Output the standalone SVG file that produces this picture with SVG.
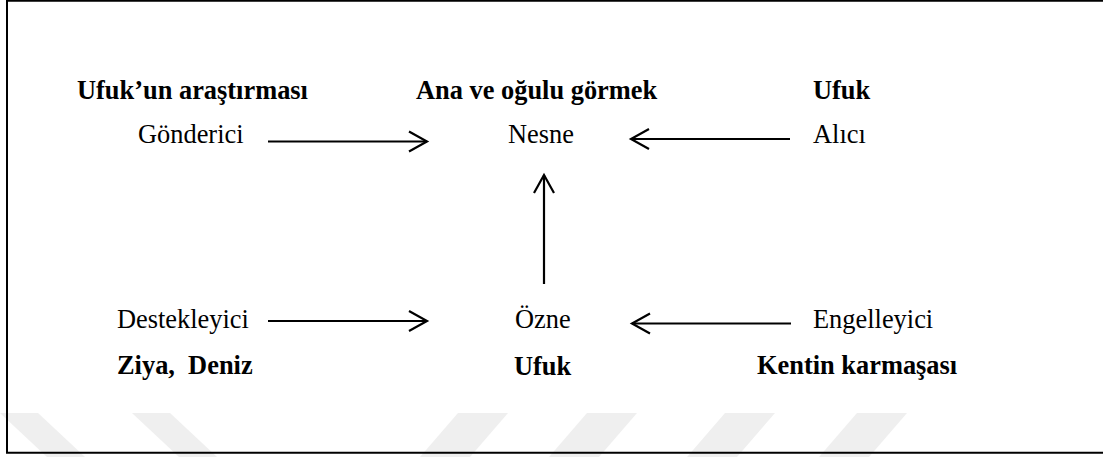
<svg xmlns="http://www.w3.org/2000/svg" width="1103" height="457" viewBox="0 0 1103 457">
<style>
  text { font-family: "Liberation Serif", "Times New Roman", serif; font-size: 26.4px; fill: #000; white-space: pre; }
  .b { font-weight: bold; }
  .wm { fill: #efefef; }
  .conn { stroke: #000; stroke-width: 2.2; fill: none; }
</style>
<defs>
  <marker id="ah" markerUnits="userSpaceOnUse" markerWidth="26" markerHeight="26" viewBox="0 0 26 26" refX="21" refY="13" orient="auto">
    <path d="M3,3 L21,13 L3,23" fill="none" stroke="#000" stroke-width="2.2"/>
  </marker>
</defs>
<rect width="1103" height="457" fill="#fff"/>
<g id="watermark">
  <polygon class="wm" points="0,413 38,413 85,457 47,457"/>
  <polygon class="wm" points="132,413 170,413 217,457 179,457"/>
  <polygon class="wm" points="458,413 508,413 470,457 420,457"/>
  <polygon class="wm" points="587,413 637,413 599,457 549,457"/>
  <polygon class="wm" points="725,413 775,413 737,457 687,457"/>
  <polygon class="wm" points="857,413 907,413 869,457 819,457"/>
</g>
<path id="frame" d="M1103,0.8 H7 V452.8 H1103" fill="none" stroke="#000" stroke-width="2"/>
<g id="connectors">
  <path class="conn" d="M268,141.5 H427" marker-end="url(#ah)"/>
  <path class="conn" d="M790,139 H631" marker-end="url(#ah)"/>
  <path class="conn" d="M544,284 V175" marker-end="url(#ah)"/>
  <path class="conn" d="M268,321 H427" marker-end="url(#ah)"/>
  <path class="conn" d="M791,323.5 H632" marker-end="url(#ah)"/>
</g>
<g id="gonderici">
  <text class="b" x="77" y="99">Ufuk’un araştırması</text>
  <text x="138" y="143">Gönderici</text>
</g>
<g id="nesne">
  <text class="b" x="416" y="99">Ana ve oğulu görmek</text>
  <text x="508" y="143">Nesne</text>
</g>
<g id="alici">
  <text class="b" x="813" y="99">Ufuk</text>
  <text x="813" y="143">Alıcı</text>
</g>
<g id="destekleyici">
  <text x="117" y="328">Destekleyici</text>
  <text class="b" x="117" y="374">Ziya,  Deniz</text>
</g>
<g id="ozne">
  <text x="515" y="328">Özne</text>
  <text class="b" x="514" y="375">Ufuk</text>
</g>
<g id="engelleyici">
  <text x="813" y="328">Engelleyici</text>
  <text class="b" x="757" y="374">Kentin karmaşası</text>
</g>
</svg>
